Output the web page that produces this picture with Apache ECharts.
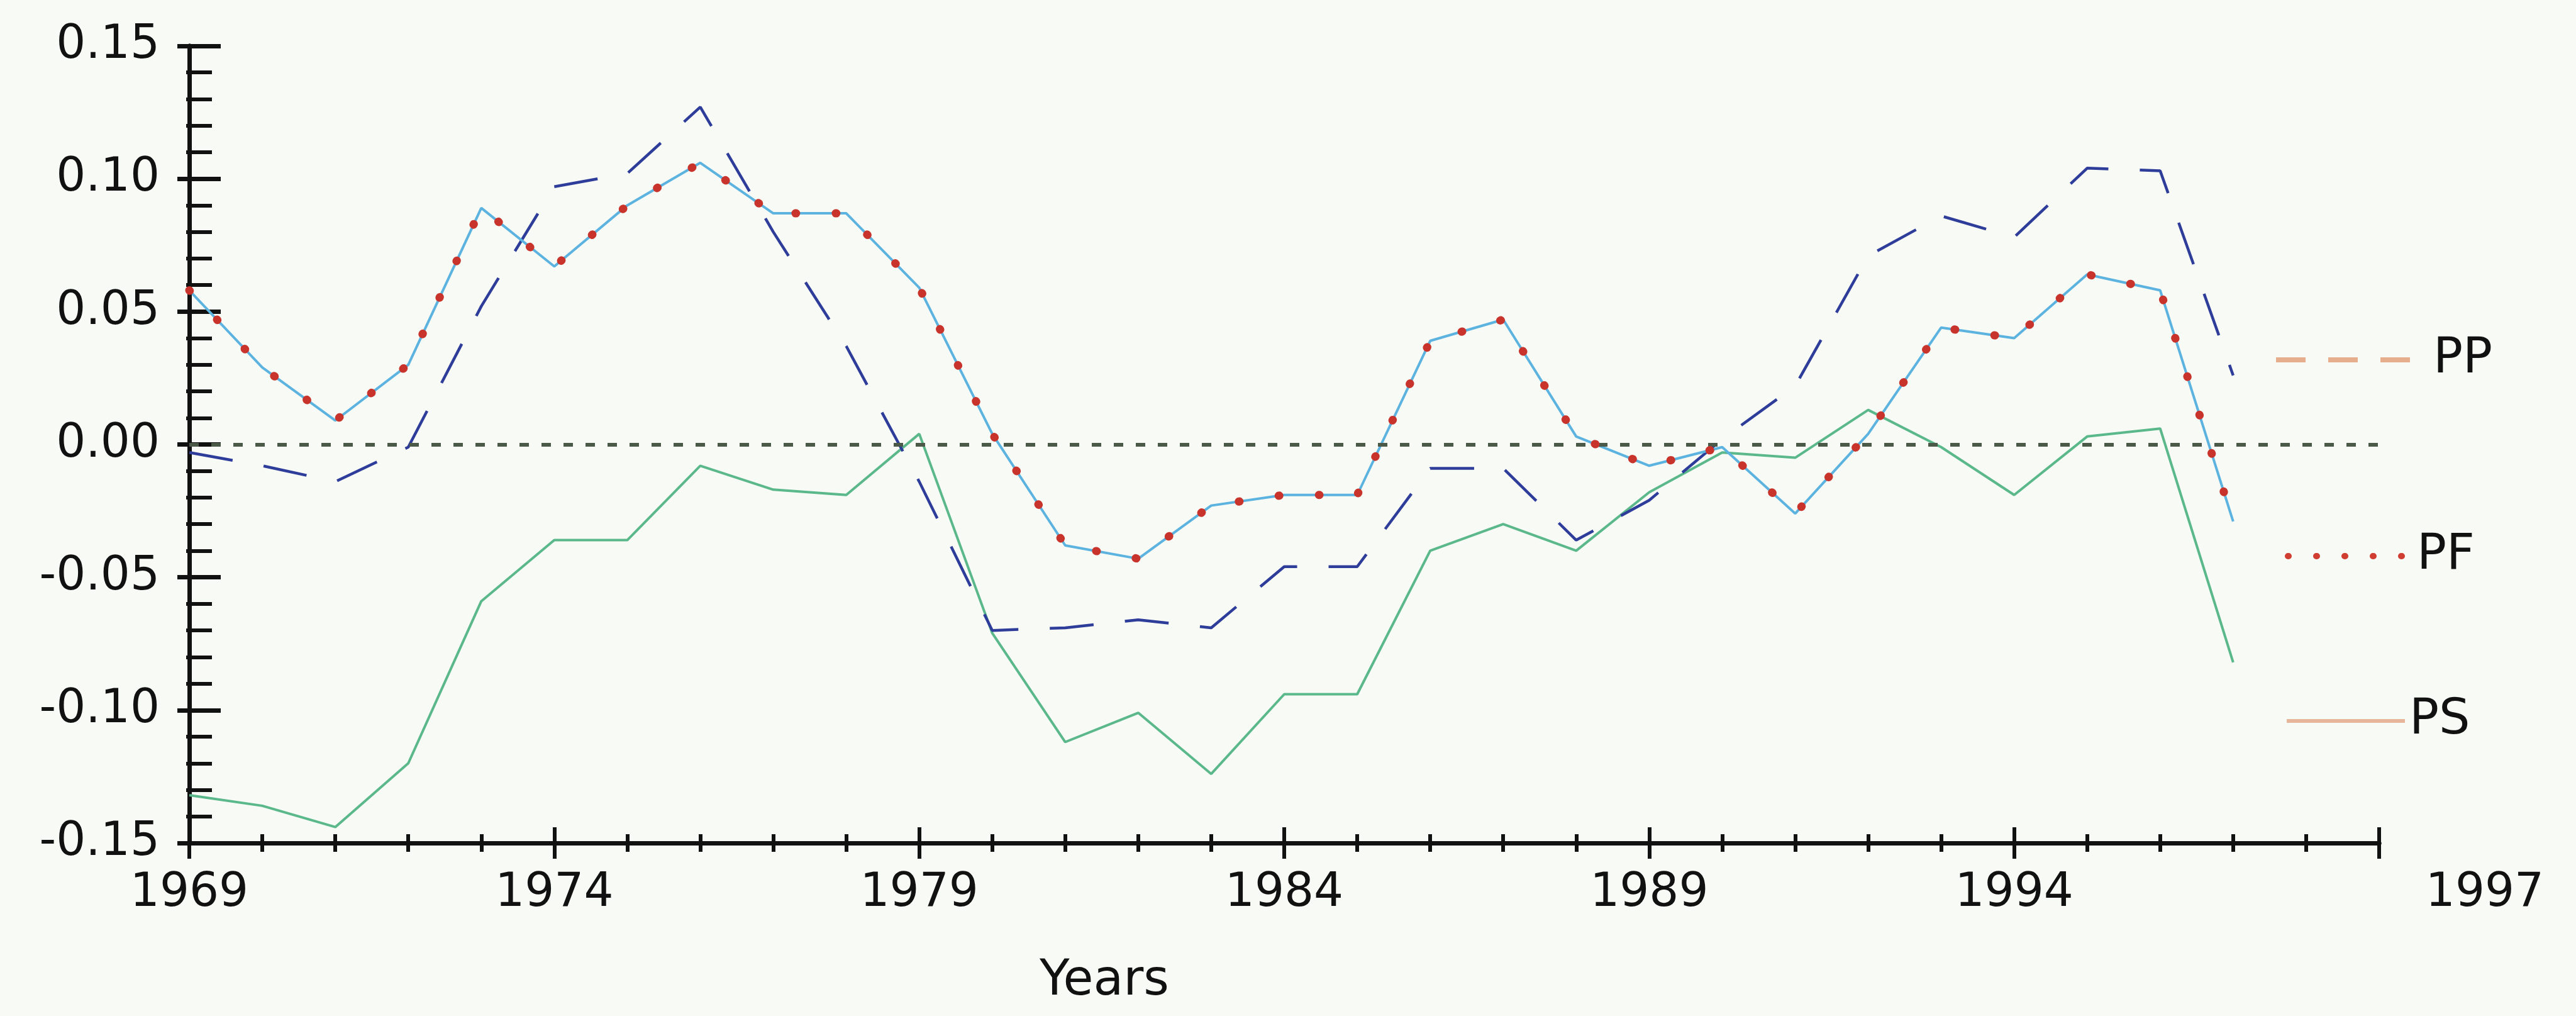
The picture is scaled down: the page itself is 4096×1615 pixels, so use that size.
<!DOCTYPE html>
<html>
<head>
<meta charset="utf-8">
<script src="https://cdn.jsdelivr.net/npm/echarts@6/dist/echarts.min.js"></script>
<style>
html,body{margin:0;padding:0;background:#f8faf6;}
#chart{width:4096px;height:1615px;}
</style>
</head>
<body>
<div id="chart"></div>
<script>
// ---- data ----
const years = [1969,1970,1971,1972,1973,1974,1975,1976,1977,1978,1979,1980,1981,1982,1983,1984,1985,1986,1987,1988,1989,1990,1991,1992,1993,1994,1995,1996,1997];
const ppValues = [-0.003,-0.008,-0.014,-0.001,0.052,0.097,0.102,0.127,0.080,0.037,-0.014,-0.070,-0.069,-0.066,-0.069,-0.046,-0.046,-0.009,-0.009,-0.036,-0.021,0.002,0.022,0.071,0.086,0.078,0.104,0.103,0.026];
const pfValues = [0.058,0.029,0.009,0.030,0.089,0.067,0.090,0.106,0.087,0.087,0.059,0.004,-0.038,-0.043,-0.023,-0.019,-0.019,0.039,0.047,0.003,-0.008,-0.001,-0.026,0.004,0.044,0.040,0.064,0.058,-0.029];
const psValues = [-0.132,-0.136,-0.144,-0.120,-0.059,-0.036,-0.036,-0.008,-0.017,-0.019,0.004,-0.071,-0.112,-0.101,-0.124,-0.094,-0.094,-0.040,-0.030,-0.040,-0.018,-0.003,-0.005,0.013,-0.001,-0.019,0.003,0.006,-0.082];
const xAxisRange = [1969, 1999];
const xTickLabels = ['1969','1974','1979','1984','1989','1994',''];
const xEndLabel = '1997';
const xAxisTitle = 'Years';
const yTickLabels = ['-0.15','-0.10','-0.05','0.00','0.05','0.10','0.15'];
const legendNames = ['PP','PF','PS'];

// ---- chart ----
const FONT = 'DejaVu Sans';
const INK = '#111111';
const toPairs = vals => vals.map((v, i) => [years[i] - xAxisRange[0], v]);
const xSpan = xAxisRange[1] - xAxisRange[0];

const gridBox = {left: 301, right: 313, top: 73, bottom: 275};

function xAxisBase(gridIndex) {
  return {
    type: 'value', gridIndex, min: 0, max: xSpan, interval: 5,
    axisLine: {show: true, onZero: false, lineStyle: {color: INK, width: 7}},
    splitLine: {show: false}, minorSplitLine: {show: false}
  };
}
function yAxisBase(gridIndex) {
  return {
    type: 'value', gridIndex, min: -0.15, max: 0.15, interval: 0.05,
    axisLine: {show: true, onZero: false, lineStyle: {color: INK, width: 7}},
    splitLine: {show: false}, minorSplitLine: {show: false}
  };
}

const legendText = (padLeft) => ({fontSize: 78, lineHeight: 78, fontFamily: FONT, color: INK, padding: [0, 0, 54, padLeft]});

const option = {
  backgroundColor: '#f8faf6',
  animation: false,
  grid: [Object.assign({}, gridBox), Object.assign({}, gridBox)],
  xAxis: [
    Object.assign(xAxisBase(0), {
      axisTick: {show: true, inside: true, length: 25, lineStyle: {color: INK, width: 6}},
      minorTick: {show: true, splitNumber: 5, length: 14, lineStyle: {color: INK, width: 6}},
      axisLabel: {show: true, margin: 44, fontSize: 74, lineHeight: 74, fontFamily: FONT, color: INK,
        formatter: (v, i) => (xTickLabels[i] !== undefined ? xTickLabels[i] : '')},
      name: xAxisTitle, nameLocation: 'middle', nameGap: 221,
      nameTextStyle: {fontSize: 78, fontFamily: FONT, color: INK, align: 'center', verticalAlign: 'middle', padding: [0, 572, 0, 0]}
    }),
    Object.assign(xAxisBase(1), {
      axisTick: {show: true, inside: false, length: 25, lineStyle: {color: INK, width: 6}},
      minorTick: {show: true, splitNumber: 5, length: 14, lineStyle: {color: INK, width: 6}},
      axisLabel: {show: true, margin: 44, fontSize: 74, lineHeight: 74, fontFamily: FONT, color: INK,
        showMaxLabel: true, padding: [0, 0, 0, 336],
        formatter: (v) => (v === xSpan ? xEndLabel : '')}
    })
  ],
  yAxis: [
    Object.assign(yAxisBase(0), {
      axisTick: {show: true, inside: true, length: 50, lineStyle: {color: INK, width: 7}},
      minorTick: {show: true, splitNumber: 5, length: 36, lineStyle: {color: INK, width: 6}},
      axisLabel: {show: true, margin: 47, fontSize: 74, fontFamily: FONT, color: INK,
        formatter: (v, i) => (yTickLabels[i] !== undefined ? yTickLabels[i] : '')}
    }),
    Object.assign(yAxisBase(1), {
      axisTick: {show: true, inside: false, length: 19, lineStyle: {color: INK, width: 7}},
      minorTick: {show: true, splitNumber: 5, length: 5, lineStyle: {color: INK, width: 6}},
      axisLabel: {show: false}
    })
  ],
  legend: [
    {left: 3615, top: 506, padding: 0, itemWidth: 216, itemHeight: 12, selectedMode: false,
     textStyle: legendText(29),
     data: [{name: legendNames[0], itemStyle: {opacity: 0}, lineStyle: {color: '#e6ae8c', width: 8, type: [47, 36], opacity: 1}}]},
    {left: 3633, top: 818, padding: 0, itemWidth: 192, itemHeight: 12, selectedMode: false,
     textStyle: legendText(8),
     data: [{name: legendNames[1], itemStyle: {opacity: 0}, lineStyle: {color: '#cf3e30', width: 10, type: [1, 44], cap: 'round', opacity: 1}}]},
    {left: 3633, top: 1080, padding: 0, itemWidth: 188, itemHeight: 12, selectedMode: false,
     textStyle: legendText(2),
     data: [{name: legendNames[2], itemStyle: {opacity: 0}, lineStyle: {color: '#e7b59a', width: 6, type: 'solid', opacity: 1}}]}
  ],
  series: [
    {
      name: legendNames[2], type: 'line', xAxisIndex: 0, yAxisIndex: 0, data: toPairs(psValues),
      symbol: 'none', silent: true, z: 2,
      itemStyle: {color: '#5ab88a'},
      lineStyle: {color: '#5ab88a', width: 4},
      markLine: {
        silent: true, symbol: ['none', 'none'], label: {show: false},
        lineStyle: {color: '#4b5a48', width: 6, type: [15, 20]},
        data: [{yAxis: 0}]
      }
    },
    {
      name: legendNames[0], type: 'line', xAxisIndex: 0, yAxisIndex: 0, data: toPairs(ppValues),
      symbol: 'none', silent: true, z: 3,
      itemStyle: {color: '#2e3c9a'},
      lineStyle: {color: '#2e3c9a', width: 4.5, type: [70, 50]}
    },
    {
      name: 'PF-line', type: 'line', xAxisIndex: 0, yAxisIndex: 0, data: toPairs(pfValues),
      symbol: 'none', silent: true, z: 4,
      itemStyle: {color: '#5cb3df'},
      lineStyle: {color: '#5cb3df', width: 4}
    },
    {
      name: legendNames[1], type: 'line', xAxisIndex: 0, yAxisIndex: 0, data: toPairs(pfValues),
      symbol: 'none', silent: true, z: 5,
      itemStyle: {color: '#c8342b'},
      lineStyle: {color: '#c8342b', width: 13, type: [1, 63], cap: 'round'}
    }
  ]
};

const chart = echarts.init(document.getElementById('chart'), null, {renderer: 'canvas'});
chart.setOption(option);
</script>
</body>
</html>
